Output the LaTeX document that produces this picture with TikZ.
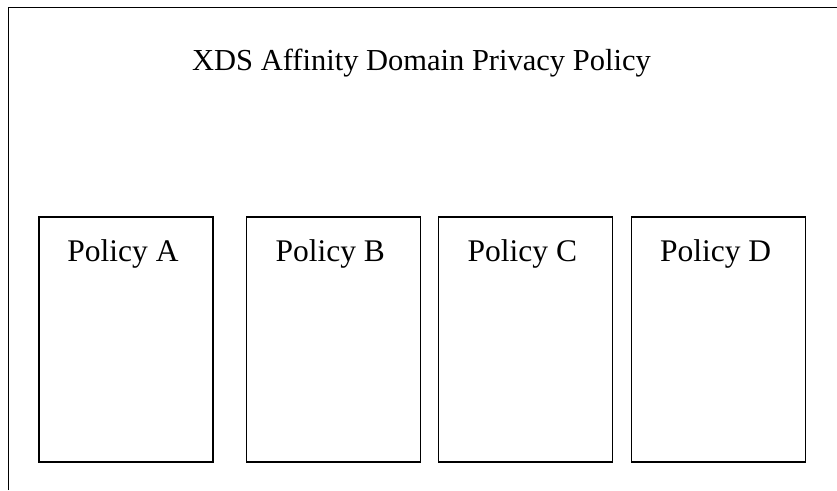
\documentclass[tikz,border=0pt]{standalone}
\usepackage{fontspec}
\setmainfont{Liberation Serif}
\usetikzlibrary{positioning}

\begin{document}
\begin{tikzpicture}[
        x=1pt, y=1pt,
        box/.style={draw, line width=1.2pt, minimum width=174pt, minimum height=245pt,
                    inner sep=0pt},
        boxtext/.style={anchor=base, yshift=-45pt, xshift=-3pt, font=\fontsize{31.5}{37}\selectfont},
        title/.style={anchor=base, font=\fontsize{30.5}{36}\selectfont}
    ]
        \useasboundingbox (0,0) rectangle (837,-490);
        \draw[line width=0.9pt] (8,-490) |- (837,-7);

        \node[title] (ttl) at (421.5,-70) {XDS Affinity Domain Privacy Policy};

        \node[box, label={[boxtext]north:Policy A}] (pola) at (126,-339.5) {};
        \node[box, right=32pt of pola, label={[boxtext]north:Policy B}] (polb) {};
        \node[box, right=17pt of polb, label={[boxtext]north:Policy C}] (polc) {};
        \node[box, right=18pt of polc, label={[boxtext]north:Policy D}] (pold) {};
    \end{tikzpicture}
\end{document}
